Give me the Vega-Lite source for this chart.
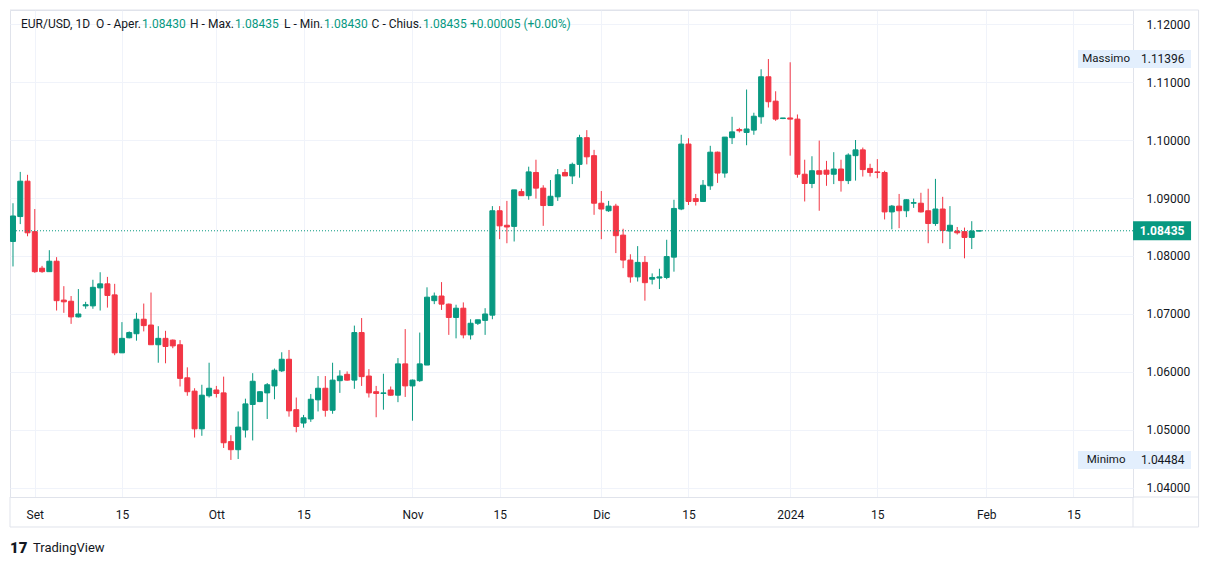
{
  "$schema": "https://vega.github.io/schema/vega-lite/v6.json",
  "width": 1123,
  "height": 487,
  "autosize": {"type": "none"},
  "padding": {"left": 10, "top": 10, "right": 76, "bottom": 67},
  "background": "#ffffff",
  "config": {"view": {"stroke": "#e0e3eb"}, "font": "Roboto", "text": {"font": "Roboto"}, "scale": {"zero": false}},
  "datasets": {
    "ohlc": [
      {"d":"2023-08-29","o":1.0825,"h":1.0891,"l":1.0782,"c":1.0869},
      {"d":"2023-08-30","o":1.0868,"h":1.0945,"l":1.0855,"c":1.0929},
      {"d":"2023-08-31","o":1.0929,"h":1.0940,"l":1.0834,"c":1.0840},
      {"d":"2023-09-01","o":1.0842,"h":1.0881,"l":1.0771,"c":1.0773},
      {"d":"2023-09-03","o":1.0779,"h":1.0783,"l":1.0771,"c":1.0773},
      {"d":"2023-09-04","o":1.0773,"h":1.0810,"l":1.0773,"c":1.0791},
      {"d":"2023-09-05","o":1.0791,"h":1.0798,"l":1.0706,"c":1.0723},
      {"d":"2023-09-06","o":1.0724,"h":1.0748,"l":1.0702,"c":1.0721},
      {"d":"2023-09-07","o":1.0722,"h":1.0731,"l":1.0683,"c":1.0695},
      {"d":"2023-09-08","o":1.0695,"h":1.0743,"l":1.0694,"c":1.0700},
      {"d":"2023-09-10","o":1.0714,"h":1.0721,"l":1.0709,"c":1.0716},
      {"d":"2023-09-11","o":1.0714,"h":1.0759,"l":1.0709,"c":1.0746},
      {"d":"2023-09-12","o":1.0745,"h":1.0772,"l":1.0706,"c":1.0752},
      {"d":"2023-09-13","o":1.0752,"h":1.0764,"l":1.0711,"c":1.0732},
      {"d":"2023-09-14","o":1.0733,"h":1.0752,"l":1.0629,"c":1.0633},
      {"d":"2023-09-15","o":1.0633,"h":1.0686,"l":1.0633,"c":1.0658},
      {"d":"2023-09-17","o":1.0659,"h":1.0670,"l":1.0658,"c":1.0668},
      {"d":"2023-09-18","o":1.0666,"h":1.0702,"l":1.0654,"c":1.0691},
      {"d":"2023-09-19","o":1.0691,"h":1.0718,"l":1.0670,"c":1.0680},
      {"d":"2023-09-20","o":1.0681,"h":1.0737,"l":1.0647,"c":1.0647},
      {"d":"2023-09-21","o":1.0647,"h":1.0679,"l":1.0616,"c":1.0658},
      {"d":"2023-09-22","o":1.0658,"h":1.0671,"l":1.0615,"c":1.0644},
      {"d":"2023-09-24","o":1.0655,"h":1.0656,"l":1.0641,"c":1.0645},
      {"d":"2023-09-25","o":1.0647,"h":1.0655,"l":1.0575,"c":1.0589},
      {"d":"2023-09-26","o":1.0590,"h":1.0608,"l":1.0559,"c":1.0566},
      {"d":"2023-09-27","o":1.0567,"h":1.0572,"l":1.0487,"c":1.0502},
      {"d":"2023-09-28","o":1.0502,"h":1.0578,"l":1.0490,"c":1.0560},
      {"d":"2023-09-29","o":1.0559,"h":1.0616,"l":1.0556,"c":1.0572},
      {"d":"2023-10-01","o":1.0569,"h":1.0576,"l":1.0556,"c":1.0563},
      {"d":"2023-10-02","o":1.0564,"h":1.0592,"l":1.0469,"c":1.0478},
      {"d":"2023-10-03","o":1.0480,"h":1.0491,"l":1.04484,"c":1.0466},
      {"d":"2023-10-04","o":1.0466,"h":1.0532,"l":1.0450,"c":1.0505},
      {"d":"2023-10-05","o":1.0500,"h":1.0554,"l":1.0487,"c":1.0545},
      {"d":"2023-10-06","o":1.0544,"h":1.0598,"l":1.0482,"c":1.0584},
      {"d":"2023-10-08","o":1.0549,"h":1.0567,"l":1.0548,"c":1.0566},
      {"d":"2023-10-09","o":1.0564,"h":1.0581,"l":1.0519,"c":1.0578},
      {"d":"2023-10-10","o":1.0576,"h":1.0606,"l":1.0553,"c":1.0603},
      {"d":"2023-10-11","o":1.0602,"h":1.0634,"l":1.0600,"c":1.0622},
      {"d":"2023-10-12","o":1.0622,"h":1.0638,"l":1.0523,"c":1.0533},
      {"d":"2023-10-13","o":1.0535,"h":1.0556,"l":1.0496,"c":1.0506},
      {"d":"2023-10-15","o":1.0512,"h":1.0526,"l":1.0504,"c":1.0521},
      {"d":"2023-10-16","o":1.0519,"h":1.0562,"l":1.0514,"c":1.0553},
      {"d":"2023-10-17","o":1.0552,"h":1.0593,"l":1.0532,"c":1.0572},
      {"d":"2023-10-18","o":1.0572,"h":1.0593,"l":1.0523,"c":1.0534},
      {"d":"2023-10-19","o":1.0534,"h":1.0616,"l":1.0528,"c":1.0586},
      {"d":"2023-10-20","o":1.0585,"h":1.0603,"l":1.0564,"c":1.0593},
      {"d":"2023-10-22","o":1.0596,"h":1.0601,"l":1.0585,"c":1.0586},
      {"d":"2023-10-23","o":1.0586,"h":1.0680,"l":1.0571,"c":1.0668},
      {"d":"2023-10-24","o":1.0668,"h":1.0693,"l":1.0576,"c":1.0592},
      {"d":"2023-10-25","o":1.0593,"h":1.0605,"l":1.0556,"c":1.0564},
      {"d":"2023-10-26","o":1.0566,"h":1.0576,"l":1.0522,"c":1.0563},
      {"d":"2023-10-27","o":1.0563,"h":1.0597,"l":1.0535,"c":1.0564},
      {"d":"2023-10-29","o":1.0569,"h":1.0575,"l":1.0559,"c":1.0560},
      {"d":"2023-10-30","o":1.0560,"h":1.0624,"l":1.0548,"c":1.0614},
      {"d":"2023-10-31","o":1.0614,"h":1.0674,"l":1.0557,"c":1.0576},
      {"d":"2023-11-01","o":1.0576,"h":1.0587,"l":1.0516,"c":1.0586},
      {"d":"2023-11-02","o":1.0585,"h":1.0668,"l":1.0583,"c":1.0614},
      {"d":"2023-11-03","o":1.0612,"h":1.0746,"l":1.0612,"c":1.0729},
      {"d":"2023-11-05","o":1.0723,"h":1.0737,"l":1.0717,"c":1.0731},
      {"d":"2023-11-06","o":1.0731,"h":1.0755,"l":1.0707,"c":1.0717},
      {"d":"2023-11-07","o":1.0717,"h":1.0718,"l":1.0664,"c":1.0694},
      {"d":"2023-11-08","o":1.0694,"h":1.0716,"l":1.0658,"c":1.0710},
      {"d":"2023-11-09","o":1.0710,"h":1.0720,"l":1.0658,"c":1.0664},
      {"d":"2023-11-10","o":1.0664,"h":1.0691,"l":1.0656,"c":1.0684},
      {"d":"2023-11-12","o":1.0684,"h":1.0690,"l":1.0681,"c":1.0690},
      {"d":"2023-11-13","o":1.0689,"h":1.0710,"l":1.0664,"c":1.0700},
      {"d":"2023-11-14","o":1.0698,"h":1.0886,"l":1.0691,"c":1.0878},
      {"d":"2023-11-15","o":1.0878,"h":1.0886,"l":1.0829,"c":1.0852},
      {"d":"2023-11-16","o":1.0853,"h":1.0895,"l":1.0822,"c":1.0850},
      {"d":"2023-11-17","o":1.0851,"h":1.0914,"l":1.0825,"c":1.0914},
      {"d":"2023-11-19","o":1.0911,"h":1.0916,"l":1.0904,"c":1.0904},
      {"d":"2023-11-20","o":1.0904,"h":1.0954,"l":1.0897,"c":1.0945},
      {"d":"2023-11-21","o":1.0944,"h":1.0966,"l":1.0899,"c":1.0917},
      {"d":"2023-11-22","o":1.0917,"h":1.0922,"l":1.0852,"c":1.0887},
      {"d":"2023-11-23","o":1.0887,"h":1.0931,"l":1.0887,"c":1.0903},
      {"d":"2023-11-24","o":1.0902,"h":1.0950,"l":1.0895,"c":1.0940},
      {"d":"2023-11-26","o":1.0944,"h":1.0950,"l":1.0938,"c":1.0938},
      {"d":"2023-11-27","o":1.0938,"h":1.0961,"l":1.0924,"c":1.0958},
      {"d":"2023-11-28","o":1.0958,"h":1.1009,"l":1.0935,"c":1.1004},
      {"d":"2023-11-29","o":1.1004,"h":1.1017,"l":1.0958,"c":1.0971},
      {"d":"2023-11-30","o":1.0973,"h":1.0983,"l":1.0871,"c":1.0891},
      {"d":"2023-12-01","o":1.0891,"h":1.0912,"l":1.0829,"c":1.0881},
      {"d":"2023-12-03","o":1.0878,"h":1.0895,"l":1.0876,"c":1.0886},
      {"d":"2023-12-04","o":1.0886,"h":1.0890,"l":1.0805,"c":1.0835},
      {"d":"2023-12-05","o":1.0836,"h":1.0847,"l":1.0779,"c":1.0793},
      {"d":"2023-12-06","o":1.0793,"h":1.0803,"l":1.0754,"c":1.0764},
      {"d":"2023-12-07","o":1.0764,"h":1.0817,"l":1.0756,"c":1.0789},
      {"d":"2023-12-08","o":1.0789,"h":1.0800,"l":1.0723,"c":1.0754},
      {"d":"2023-12-10","o":1.0760,"h":1.0770,"l":1.0751,"c":1.0763},
      {"d":"2023-12-11","o":1.0762,"h":1.0778,"l":1.0743,"c":1.0764},
      {"d":"2023-12-12","o":1.0763,"h":1.0828,"l":1.0760,"c":1.0799},
      {"d":"2023-12-13","o":1.0798,"h":1.0897,"l":1.0773,"c":1.0882},
      {"d":"2023-12-14","o":1.0881,"h":1.1009,"l":1.0879,"c":1.0993},
      {"d":"2023-12-15","o":1.0993,"h":1.1003,"l":1.0888,"c":1.0894},
      {"d":"2023-12-17","o":1.0899,"h":1.0907,"l":1.0887,"c":1.0894},
      {"d":"2023-12-18","o":1.0894,"h":1.0931,"l":1.0893,"c":1.0922},
      {"d":"2023-12-19","o":1.0921,"h":1.0990,"l":1.0914,"c":1.0979},
      {"d":"2023-12-20","o":1.0979,"h":1.0980,"l":1.0926,"c":1.0943},
      {"d":"2023-12-21","o":1.0943,"h":1.1005,"l":1.0935,"c":1.1005},
      {"d":"2023-12-22","o":1.1004,"h":1.1040,"l":1.0993,"c":1.1014},
      {"d":"2023-12-24","o":1.1018,"h":1.1021,"l":1.1013,"c":1.1016},
      {"d":"2023-12-25","o":1.1013,"h":1.1087,"l":1.0991,"c":1.1019},
      {"d":"2023-12-26","o":1.1017,"h":1.1047,"l":1.1009,"c":1.1041},
      {"d":"2023-12-27","o":1.1040,"h":1.1122,"l":1.1028,"c":1.1109},
      {"d":"2023-12-28","o":1.1109,"h":1.11396,"l":1.1056,"c":1.1066},
      {"d":"2023-12-29","o":1.1067,"h":1.1084,"l":1.1033,"c":1.1036},
      {"d":"2023-12-31","o":1.1037,"h":1.1038,"l":1.1036,"c":1.1038},
      {"d":"2024-01-01","o":1.1038,"h":1.1134,"l":1.0973,"c":1.1036},
      {"d":"2024-01-02","o":1.1036,"h":1.1044,"l":1.0935,"c":1.0941},
      {"d":"2024-01-03","o":1.0941,"h":1.0966,"l":1.0894,"c":1.0925},
      {"d":"2024-01-04","o":1.0925,"h":1.0972,"l":1.0917,"c":1.0947},
      {"d":"2024-01-05","o":1.0947,"h":1.0999,"l":1.0878,"c":1.0941},
      {"d":"2024-01-07","o":1.0948,"h":1.0964,"l":1.0921,"c":1.0941},
      {"d":"2024-01-08","o":1.0941,"h":1.0979,"l":1.0924,"c":1.0950},
      {"d":"2024-01-09","o":1.0950,"h":1.0966,"l":1.0911,"c":1.0930},
      {"d":"2024-01-10","o":1.0930,"h":1.0977,"l":1.0924,"c":1.0974},
      {"d":"2024-01-11","o":1.0973,"h":1.1000,"l":1.0930,"c":1.0983},
      {"d":"2024-01-12","o":1.0983,"h":1.0987,"l":1.0937,"c":1.0949},
      {"d":"2024-01-14","o":1.0951,"h":1.0959,"l":1.0937,"c":1.0944},
      {"d":"2024-01-15","o":1.0945,"h":1.0967,"l":1.0934,"c":1.0944},
      {"d":"2024-01-16","o":1.0944,"h":1.0947,"l":1.0863,"c":1.0876},
      {"d":"2024-01-17","o":1.0876,"h":1.0888,"l":1.0846,"c":1.0886},
      {"d":"2024-01-18","o":1.0886,"h":1.0907,"l":1.0848,"c":1.0878},
      {"d":"2024-01-19","o":1.0878,"h":1.0898,"l":1.0867,"c":1.0897},
      {"d":"2024-01-21","o":1.0891,"h":1.0899,"l":1.0883,"c":1.0892},
      {"d":"2024-01-22","o":1.0891,"h":1.0909,"l":1.0875,"c":1.0876},
      {"d":"2024-01-23","o":1.0878,"h":1.0916,"l":1.0822,"c":1.0856},
      {"d":"2024-01-24","o":1.0856,"h":1.0933,"l":1.0852,"c":1.0881},
      {"d":"2024-01-25","o":1.0881,"h":1.0902,"l":1.0822,"c":1.0844},
      {"d":"2024-01-26","o":1.0843,"h":1.0886,"l":1.0812,"c":1.0853},
      {"d":"2024-01-28","o":1.0843,"h":1.0850,"l":1.0837,"c":1.0840},
      {"d":"2024-01-29","o":1.0842,"h":1.0849,"l":1.0796,"c":1.0832},
      {"d":"2024-01-30","o":1.0832,"h":1.0860,"l":1.0812,"c":1.0843},
      {"d":"2024-01-31","o":1.0843,"h":1.08435,"l":1.0843,"c":1.08435}
    ],
    "ext": [
      {"label":"Massimo","p":1.11396},
      {"label":"Minimo","p":1.04484}
    ],
    "last": [{"p":1.08435}],
    "one": [{}]
  },
  "layer": [
    {
      "data": {"name": "ohlc"},
      "transform": [{"window": [{"op": "row_number", "as": "n"}]}],
      "encoding": {
        "x": {
          "field": "n", "type": "quantitative",
          "scale": {"domain": [0.587, 155.2], "nice": false, "zero": false, "padding": 0},
          "axis": {
            "title": null,
            "values": [4,16,29,41,56,68,82,94,108,120,135,147],
            "labelExpr": "['Set','15','Ott','15','Nov','15','Dic','15','2024','15','Feb','15'][indexof([4,16,29,41,56,68,82,94,108,120,135,147], datum.value)]",
            "grid": true, "gridColor": "#f0f3fa", "gridWidth": 1,
            "ticks": false, "tickSize": 0,
            "domain": true, "domainColor": "#e0e3eb",
            "labelColor": "#131722", "labelFontSize": 12, "labelFont": "Roboto",
            "labelPadding": 12, "labelFlush": false, "labelOverlap": false
          }
        },
        "color": {"condition": {"test": "datum.c >= datum.o", "value": "#089981"}, "value": "#f23645"}
      },
      "layer": [
        {
          "mark": {"type": "rule", "strokeWidth": 1},
          "encoding": {
            "y": {
              "field": "l", "type": "quantitative",
              "scale": {"domain": [1.038448, 1.122414], "nice": false, "zero": false, "padding": 0},
              "axis": {
                "title": null, "orient": "right",
                "values": [1.04,1.05,1.06,1.07,1.08,1.09,1.10,1.11,1.12],
                "format": ".5f",
                "grid": true, "gridColor": "#f0f3fa", "gridWidth": 1,
                "ticks": false, "tickSize": 0, "domain": false,
                "labelColor": "#131722", "labelFontSize": 12, "labelFont": "Roboto",
                "labelAlign": "left", "labelPadding": 13
              }
            },
            "y2": {"field": "h"}
          }
        },
        {
          "mark": {"type": "bar", "size": 5, "strokeWidth": 1},
          "encoding": {
            "y": {"field": "o", "type": "quantitative"},
            "y2": {"field": "c"},
            "stroke": {"condition": {"test": "datum.c >= datum.o", "value": "#089981"}, "value": "#f23645"}
          }
        }
      ]
    },
    {
      "data": {"name": "one"},
      "mark": {"type": "rule", "color": "#e0e3eb", "strokeWidth": 1},
      "encoding": {
        "x": {"datum": 164.23, "type": "quantitative"},
        "y": {"datum": 1.122414, "type": "quantitative"},
        "y2": {"datum": 1.033276}
      }
    },
    {
      "data": {"name": "one"},
      "mark": {"type": "rule", "color": "#e0e3eb", "strokeWidth": 1},
      "encoding": {
        "x": {"datum": 0.587, "type": "quantitative"},
        "x2": {"datum": 164.23},
        "y": {"datum": 1.033276, "type": "quantitative"}
      }
    },
    {
      "data": {"name": "one"},
      "mark": {"type": "rule", "color": "#e0e3eb", "strokeWidth": 1},
      "encoding": {
        "x": {"datum": 0.587, "type": "quantitative"},
        "x2": {"datum": 164.23},
        "y": {"datum": 1.122414, "type": "quantitative"}
      }
    },
    {
      "data": {"name": "one"},
      "mark": {"type": "rule", "color": "#e0e3eb", "strokeWidth": 1},
      "encoding": {
        "x": {"datum": 0.587, "type": "quantitative"},
        "y": {"datum": 1.038448, "type": "quantitative"},
        "y2": {"datum": 1.033276}
      }
    },
    {
      "data": {"name": "one"},
      "mark": {"type": "rule", "color": "#e0e3eb", "strokeWidth": 1},
      "encoding": {
        "x": {"datum": 155.2, "type": "quantitative"},
        "x2": {"datum": 164.23},
        "y": {"datum": 1.038448, "type": "quantitative"}
      }
    },
    {
      "data": {"name": "one"},
      "mark": {"type": "rule", "color": "#e0e3eb", "strokeWidth": 1},
      "encoding": {
        "x": {"datum": 155.2, "type": "quantitative"},
        "y": {"datum": 1.038448, "type": "quantitative"},
        "y2": {"datum": 1.033276}
      }
    },
    {
      "data": {"name": "last"},
      "mark": {"type": "rule", "strokeDash": [1, 2], "strokeWidth": 1, "color": "#089981"},
      "encoding": {"y": {"field": "p", "type": "quantitative"}}
    },
    {
      "data": {"name": "last"},
      "mark": {"type": "point", "filled": true, "opacity": 1, "color": "#089981", "shape": "M-1,-0.3276H1V0.3276H-1Z", "size": 3364},
      "encoding": {"x": {"datum": 159.2, "type": "quantitative"}, "y": {"field": "p", "type": "quantitative"}}
    },
    {
      "data": {"name": "last"},
      "mark": {"type": "text", "color": "#ffffff", "fontWeight": "bold", "fontSize": 12, "align": "center", "baseline": "middle", "font": "Roboto"},
      "encoding": {"x": {"datum": 159.2, "type": "quantitative"}, "y": {"field": "p", "type": "quantitative"}, "text": {"field": "p", "format": ".5f"}}
    },
    {
      "data": {"name": "ext"},
      "mark": {"type": "point", "filled": true, "opacity": 1, "color": "#e3effd", "shape": "M-1,-0.1593H1V0.1593H-1Z", "size": 12769},
      "encoding": {"x": {"datum": 155.4, "type": "quantitative"}, "y": {"field": "p", "type": "quantitative"}}
    },
    {
      "data": {"name": "ext"},
      "mark": {"type": "text", "color": "#131722", "fontSize": 11.5, "align": "center", "baseline": "middle", "font": "Roboto"},
      "encoding": {"x": {"datum": 151.5, "type": "quantitative"}, "y": {"field": "p", "type": "quantitative"}, "text": {"field": "label"}}
    },
    {
      "data": {"name": "ext"},
      "mark": {"type": "text", "color": "#131722", "fontSize": 12, "align": "center", "baseline": "middle", "font": "Roboto"},
      "encoding": {"x": {"datum": 159.3, "type": "quantitative"}, "y": {"field": "p", "type": "quantitative"}, "text": {"field": "p", "format": ".5f"}}
    },
    {
      "data": {"name": "one"},
      "encoding": {"y": {"datum": 1.12, "type": "quantitative"}},
      "layer": [
        {"mark": {"type": "text", "text": "EUR/USD, 1D\u00a0\u00a0O - Aper.", "color": "#131722", "fontSize": 12, "align": "right", "baseline": "middle", "font": "Roboto"},
         "encoding": {"x": {"datum": 18.62, "type": "quantitative"}}},
        {"mark": {"type": "text", "text": "1.08430", "color": "#089981", "fontSize": 12, "align": "left", "baseline": "middle", "font": "Roboto"},
         "encoding": {"x": {"datum": 18.76, "type": "quantitative"}}},
        {"mark": {"type": "text", "text": "H - Max.", "color": "#131722", "fontSize": 12, "align": "right", "baseline": "middle", "font": "Roboto"},
         "encoding": {"x": {"datum": 31.43, "type": "quantitative"}}},
        {"mark": {"type": "text", "text": "1.08435", "color": "#089981", "fontSize": 12, "align": "left", "baseline": "middle", "font": "Roboto"},
         "encoding": {"x": {"datum": 31.57, "type": "quantitative"}}},
        {"mark": {"type": "text", "text": "L - Min.", "color": "#131722", "fontSize": 12, "align": "right", "baseline": "middle", "font": "Roboto"},
         "encoding": {"x": {"datum": 43.68, "type": "quantitative"}}},
        {"mark": {"type": "text", "text": "1.08430", "color": "#089981", "fontSize": 12, "align": "left", "baseline": "middle", "font": "Roboto"},
         "encoding": {"x": {"datum": 43.82, "type": "quantitative"}}},
        {"mark": {"type": "text", "text": "C - Chius.", "color": "#131722", "fontSize": 12, "align": "right", "baseline": "middle", "font": "Roboto"},
         "encoding": {"x": {"datum": 57.31, "type": "quantitative"}}},
        {"mark": {"type": "text", "text": "1.08435", "color": "#089981", "fontSize": 12, "align": "left", "baseline": "middle", "font": "Roboto"},
         "encoding": {"x": {"datum": 57.45, "type": "quantitative"}}},
        {"mark": {"type": "text", "text": "+0.00005 (+0.00%)", "color": "#089981", "fontSize": 12, "align": "left", "baseline": "middle", "font": "Roboto"},
         "encoding": {"x": {"datum": 63.92, "type": "quantitative"}}},
        {"mark": {"type": "text", "text": "17", "color": "#131722", "fontSize": 15, "fontWeight": 900, "align": "left", "baseline": "middle", "font": "Roboto", "dy": 1.5},
         "encoding": {"x": {"datum": 0.587, "type": "quantitative"}, "y": {"datum": 1.02983, "type": "quantitative"}}},
        {"mark": {"type": "text", "text": "TradingView", "color": "#131722", "fontSize": 13, "align": "left", "baseline": "middle", "font": "Roboto", "dy": 1.5},
         "encoding": {"x": {"datum": 3.75, "type": "quantitative"}, "y": {"datum": 1.02983, "type": "quantitative"}}}
      ]
    }
  ]
}
